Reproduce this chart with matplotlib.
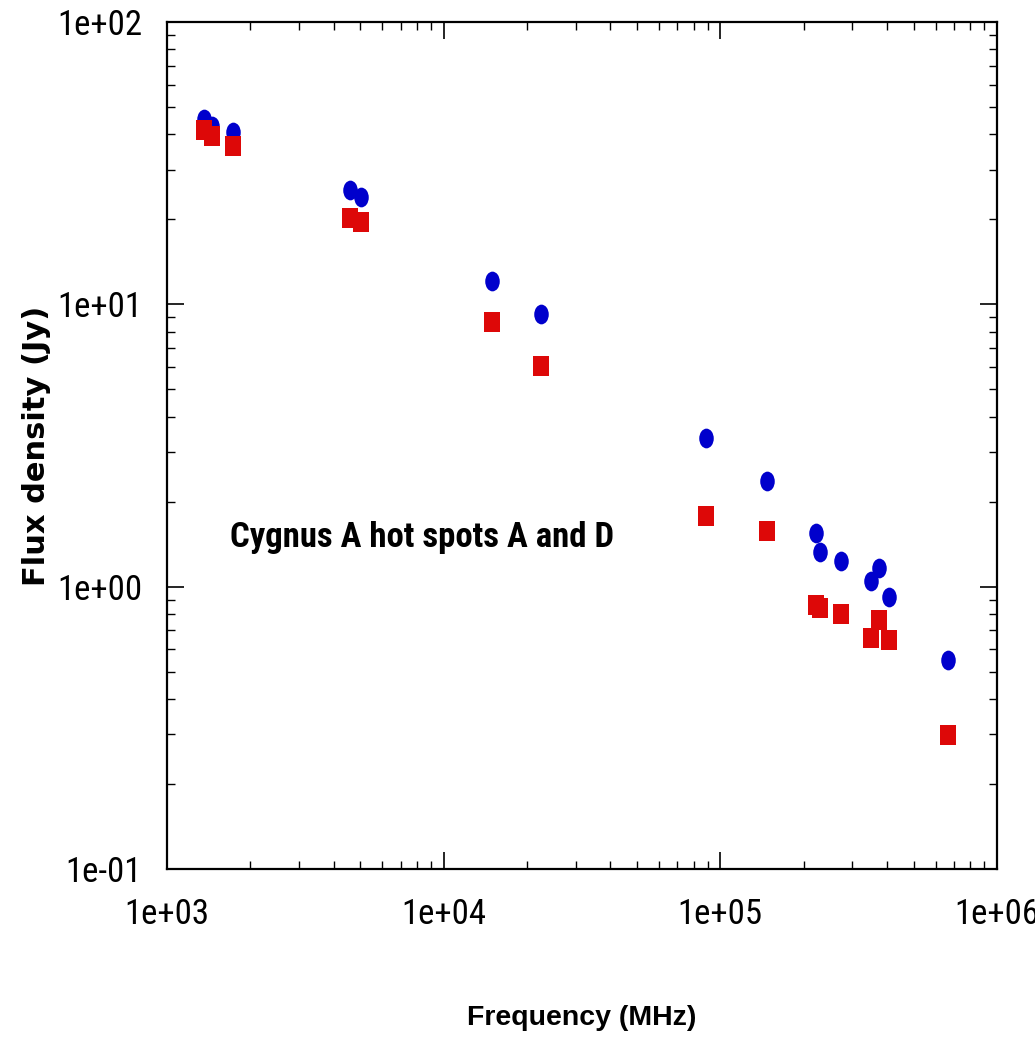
import matplotlib
matplotlib.use("Agg")
import matplotlib.pyplot as plt
from matplotlib.path import Path
from matplotlib.ticker import LogLocator, NullFormatter
import numpy as np

# Data (frequency in MHz, flux density in Jy)
freq_mhz = [1365, 1460, 1727, 4585, 5024, 14950, 22470, 89000, 147000,
            221000, 229700, 274000, 376000, 351000, 406000, 666000]
hotspot_A = [45.3, 42.8, 40.8, 25.4, 24.0, 12.1, 9.24, 3.36, 2.37,
             1.545, 1.323, 1.236, 1.167, 1.047, 0.920, 0.551]
hotspot_D = [41.5, 39.5, 36.4, 20.2, 19.6, 8.66, 6.05, 1.778, 1.574,
             0.861, 0.840, 0.800, 0.762, 0.658, 0.647, 0.298]
x_ticks = [1e3, 1e4, 1e5, 1e6]
x_tick_labels = ["1e+03", "1e+04", "1e+05", "1e+06"]
y_ticks = [1e-1, 1e0, 1e1, 1e2]
y_tick_labels = ["1e-01", "1e+00", "1e+01", "1e+02"]
annotation = "Cygnus A hot spots A and D"

narrow = ['Roboto Condensed', 'Liberation Sans', 'DejaVu Sans']

fig = plt.figure(figsize=(10.35, 10.43), dpi=100)
ax = fig.add_axes([167/1035, 1 - 869/1043, (997-167)/1035, (869-22)/1043])

# tall ellipse and tall rectangle markers
circ = Path.unit_circle()
ell = Path(circ.vertices * np.array([14/19, 1.0]), circ.codes)
rect = Path([(-0.75, -1), (0.75, -1), (0.75, 1), (-0.75, 1), (-0.75, -1)],
            [Path.MOVETO, Path.LINETO, Path.LINETO, Path.LINETO, Path.CLOSEPOLY])

ax.plot(freq_mhz, hotspot_A, linestyle='none', marker=ell, markersize=14.2,
        markeredgewidth=0, color='#0000CC')
ax.plot(freq_mhz, hotspot_D, linestyle='none', marker=rect, markersize=14.6,
        markeredgewidth=0, color='#DD0808')

ax.set_xscale('log')
ax.set_yscale('log')
ax.set_xlim(1e3, 1e6)
ax.set_ylim(1e-1, 1e2)

ax.set_xticks(x_ticks)
ax.set_xticklabels(x_tick_labels)
ax.set_yticks(y_ticks)
ax.set_yticklabels(y_tick_labels)
ax.xaxis.set_minor_locator(LogLocator(base=10, subs=np.arange(2, 10)))
ax.yaxis.set_minor_locator(LogLocator(base=10, subs=np.arange(2, 10)))
ax.xaxis.set_minor_formatter(NullFormatter())
ax.yaxis.set_minor_formatter(NullFormatter())

ax.tick_params(which='both', direction='in', top=True, right=True, colors='black')
ax.tick_params(which='major', length=12.5, width=1.2)
ax.tick_params(which='minor', length=6, width=1.0)
ax.tick_params(axis='x', which='major', pad=21)
ax.tick_params(axis='y', which='major', pad=18)
for lab in ax.get_xticklabels() + ax.get_yticklabels():
    lab.set_family(narrow)
    lab.set_fontsize(25)

for s in ax.spines.values():
    s.set_linewidth(1.6)

fig.text(230/1035, 1 - 537/1043, annotation, family=narrow, fontweight='bold',
         fontsize=25, ha='left', va='center')

fig.text(582/1035, 1 - 1018/1043, 'Frequency (MHz)', family=['Liberation Sans', 'DejaVu Sans'],
         fontweight='bold', fontsize=20.5, ha='center', va='center')
fig.text(37/1035, 1 - 446/1043, 'Flux density (Jy)', family=['DejaVu Sans'],
         fontweight='bold', fontsize=22, rotation=90, ha='center', va='center')

fig.savefig('out.png', dpi=100)
